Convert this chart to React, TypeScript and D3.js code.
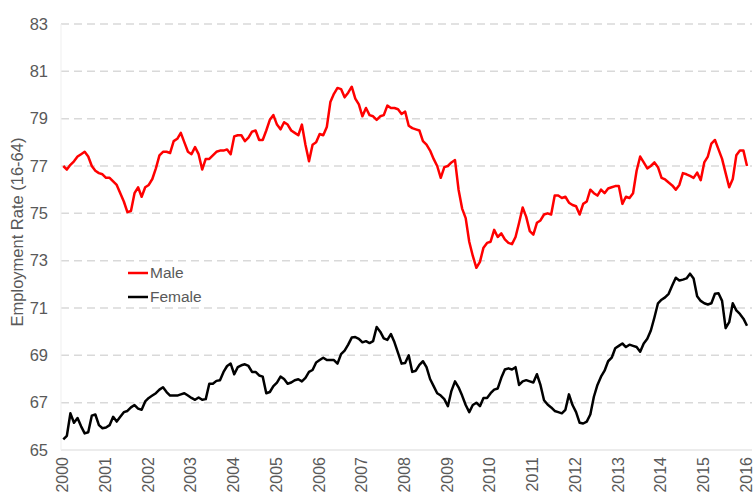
import * as d3 from "d3";

// monthly values, Jan 2000 .. Jan 2016
const MALE = [
  77.0, 76.85, 77.05, 77.2, 77.4, 77.5, 77.6, 77.4, 77.0, 76.8, 76.7, 76.65,
  76.5, 76.5, 76.35, 76.2, 75.85, 75.5, 75.05, 75.1, 75.85, 76.1, 75.7, 76.1,
  76.2, 76.45, 76.9, 77.45, 77.6, 77.6, 77.55, 78.05, 78.15, 78.4, 78.0, 77.6,
  77.5, 77.8, 77.5, 76.85, 77.3, 77.3, 77.45, 77.6, 77.65, 77.65, 77.7, 77.5,
  78.25, 78.3, 78.3, 78.05, 78.2, 78.45, 78.5, 78.1, 78.1, 78.5, 78.95, 79.15,
  78.75, 78.55, 78.85, 78.75, 78.5, 78.4, 78.3, 78.75, 77.9, 77.2, 77.9, 78.0,
  78.35, 78.3, 78.65, 79.7, 80.05, 80.3, 80.25, 79.9, 80.1, 80.35, 79.85, 79.6,
  79.1, 79.45, 79.15, 79.1, 78.95, 79.1, 79.15, 79.55, 79.45, 79.45, 79.4, 79.2,
  79.3, 78.7, 78.6, 78.55, 78.5, 78.05, 77.9, 77.65, 77.3, 77.0, 76.5, 76.95,
  77.0, 77.15, 77.25, 76.0, 75.2, 74.8, 73.8, 73.2, 72.7, 72.95, 73.55, 73.75,
  73.8, 74.3, 74.0, 74.15, 73.9, 73.75, 73.7, 74.0, 74.6, 75.25, 74.85, 74.25,
  74.1, 74.6, 74.7, 74.95, 75.0, 74.95, 75.75, 75.75, 75.65, 75.7, 75.45, 75.35,
  75.3, 74.95, 75.4, 75.5, 76.0, 75.85, 75.75, 76.0, 75.85, 76.05, 76.1, 76.15,
  76.15, 75.4, 75.7, 75.65, 75.85, 76.8, 77.4, 77.15, 76.9, 77.0, 77.15, 76.95,
  76.5, 76.43, 76.3, 76.18, 76.0, 76.2, 76.7, 76.65, 76.58, 76.5, 76.72, 76.4,
  77.15, 77.4, 77.95, 78.1, 77.7, 77.3, 76.7, 76.1, 76.45, 77.45, 77.65, 77.65,
  77.0,
];

const FEMALE = [
  65.45, 65.6, 66.55, 66.15, 66.35, 66.0, 65.7, 65.75, 66.45, 66.5, 66.05, 65.92,
  65.95, 66.05, 66.4, 66.2, 66.4, 66.6, 66.65, 66.8, 66.9, 66.75, 66.7, 67.05,
  67.2, 67.3, 67.4, 67.55, 67.65, 67.45, 67.3, 67.3, 67.3, 67.35, 67.4, 67.3,
  67.2, 67.12, 67.22, 67.12, 67.15, 67.8, 67.8, 67.92, 67.95, 68.3, 68.55, 68.65,
  68.2, 68.5, 68.58, 68.62, 68.55, 68.3, 68.3, 68.15, 68.1, 67.4, 67.45, 67.7,
  67.85, 68.1, 68.0, 67.8, 67.85, 67.95, 67.99, 67.9, 68.05, 68.3, 68.38, 68.7,
  68.8, 68.9, 68.8, 68.8, 68.8, 68.65, 69.05, 69.2, 69.45, 69.75, 69.77, 69.7,
  69.55, 69.6, 69.52, 69.6, 70.2, 70.0, 69.72, 69.65, 69.9, 69.55, 69.1, 68.65,
  68.68, 69.0, 68.3, 68.35, 68.6, 68.75, 68.5, 68.0, 67.7, 67.4, 67.3, 67.15,
  66.85, 67.5, 67.9, 67.65, 67.3, 66.9, 66.6, 66.9, 67.0, 66.85, 67.2, 67.2,
  67.4, 67.55, 67.6, 68.05, 68.4, 68.45, 68.4, 68.5, 67.75, 67.9, 67.95, 67.9,
  67.85, 68.2, 67.75, 67.1, 66.92, 66.8, 66.65, 66.6, 66.55, 66.7, 67.35, 66.9,
  66.6, 66.15, 66.12, 66.2, 66.5, 67.25, 67.75, 68.1, 68.35, 68.75, 68.9, 69.3,
  69.4, 69.5, 69.35, 69.45, 69.4, 69.35, 69.15, 69.5, 69.7, 70.05, 70.6, 71.2,
  71.35, 71.45, 71.6, 71.95, 72.28, 72.16, 72.2, 72.25, 72.45, 72.25, 71.5, 71.3,
  71.2, 71.15, 71.2, 71.6, 71.62, 71.3, 70.15, 70.4, 71.2, 70.9, 70.75, 70.55,
  70.25,
];

const YEARS = d3.range(2000, 2017);
const Y_TICKS = [65, 67, 69, 71, 73, 75, 77, 79, 81, 83];
const SERIES = [
  { name: "Male", values: MALE, color: "#ff0000" },
  { name: "Female", values: FEMALE, color: "#000000" },
];

const width = 755;
const height = 497;
const font = "Arial, 'Liberation Sans', sans-serif";

export default function App() {
  const x = d3.scaleLinear().domain([2000, 2016]).range([63.3, 747]);
  const y = d3.scaleLinear().domain([65, 83]).range([450, 24]);

  const line = d3
    .line<number>()
    .x((_, i) => x(2000 + i / 12))
    .y((d) => y(d));

  return (
    <svg
      width={width}
      height={height}
      style={{ position: "absolute", left: 0, top: 0, background: "#fff" }}
      fontFamily={font}
    >
      {/* grid */}
      {Y_TICKS.map((t) =>
        t === 65 ? (
          <line key={t} x1={61} x2={752} y1={y(t)} y2={y(t)} stroke="#e6e6e6" strokeWidth={1.5} />
        ) : (
          <line
            key={t}
            x1={61}
            x2={752}
            y1={y(t)}
            y2={y(t)}
            stroke="#d9d9d9"
            strokeWidth={1.5}
            strokeDasharray="8,5"
          />
        )
      )}
      <line x1={61} x2={61} y1={y(83)} y2={y(65)} stroke="#efefef" strokeWidth={1} />

      {/* y ticks */}
      {Y_TICKS.map((t) => (
        <text key={t} x={48} y={y(t)} dy="0.35em" textAnchor="end" fontSize={16.5} fill="#595959">
          {t}
        </text>
      ))}

      {/* x ticks */}
      {YEARS.map((yr) => (
        <text
          key={yr}
          transform={`translate(${x(yr)},457) rotate(-90)`}
          dy="0.3em"
          textAnchor="end"
          fontSize={16}
          fill="#595959"
        >
          {yr}
        </text>
      ))}

      <text
        transform="translate(17,232) rotate(-90)"
        textAnchor="middle"
        dy="0.35em"
        fontSize={16.5}
        fill="#595959"
      >
        Employment Rate (16-64)
      </text>

      {SERIES.map((s) => (
        <path key={s.name} d={line(s.values) ?? ""} fill="none" stroke={s.color} strokeWidth={2.5} strokeLinejoin="round" />
      ))}

      {/* legend */}
      {SERIES.map((s, i) => (
        <g key={s.name} transform={`translate(128,${273 + i * 24})`}>
          <line x1={0} x2={20} y1={0} y2={0} stroke={s.color} strokeWidth={2.5} />
          <text x={22} y={0} dy="0.35em" fontSize={15.5} fill="#595959">
            {s.name}
          </text>
        </g>
      ))}
    </svg>
  );
}
